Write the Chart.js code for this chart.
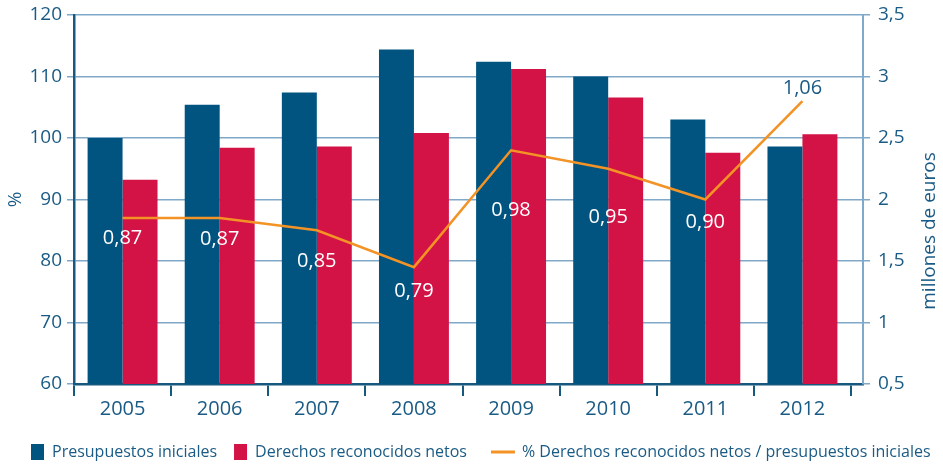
<!DOCTYPE html>
<html>
<head>
<meta charset="utf-8">
<script src="https://cdn.jsdelivr.net/npm/chart.js@4.4.0/dist/chart.umd.min.js"></script>
<style>
  html, body { margin: 0; padding: 0; background: #fff; }
</style>
</head>
<body>
<canvas id="budgetChart" width="943" height="467"></canvas>
<script>
// Datos: presupuestos y derechos en millones de euros, ratio en %
const years = ['2005', '2006', '2007', '2008', '2009', '2010', '2011', '2012'];
const presupuestos = [2.50, 2.77, 2.87, 3.22, 3.12, 3.00, 2.65, 2.43];
const derechos = [2.16, 2.42, 2.43, 2.54, 3.06, 2.83, 2.38, 2.53];
const porcentaje = [87, 87, 85, 79, 98, 95, 90, 106];
const leftTickLabels = ['60', '70', '80', '90', '100', '110', '120'];
const rightTickLabels = ['0,5', '1', '1,5', '2', '2,5', '3', '3,5'];

// vertical shift of each ratio label relative to its point
const labelOffsets = [20, 21, 31, 24, 60, 49, 23, -13];

const BLUE = '#00547f';
const RED = '#d31245';
const ORANGE = '#f39325';
const TEXT = '#1a5b85';
const GRID = '#80a8c8';
const AXIS = '#17587f';
const FONT = '"Open Sans", "DejaVu Sans", sans-serif';

function formatRatio(v) {
    return (v / 100).toFixed(2).replace('.', ',');
}

// fixed axis width, and no extra room for the end labels
function fixWidth(w) {
    return (scale) => {
        scale.width = w;
        scale.paddingTop = 0;
        scale.paddingBottom = 0;
    };
}

// ratio labels drawn under (or above) each point of the line
const ratioLabels = {
    id: 'ratioLabels',
    afterDatasetsDraw(chart) {
        const meta = chart.getDatasetMeta(2);
        const ctx = chart.ctx;
        ctx.save();
        ctx.font = '20px ' + FONT;
        ctx.textAlign = 'center';
        ctx.textBaseline = 'middle';
        meta.data.forEach((pt, i) => {
            ctx.fillStyle = labelOffsets[i] < 0 ? TEXT : '#ffffff';
            ctx.fillText(formatRatio(porcentaje[i]), pt.x, pt.y + labelOffsets[i]);
        });
        ctx.restore();
    }
};

// the category axis stops a little short of the right-hand axis
const shortXAxis = {
    id: 'shortXAxis',
    afterLayout(chart) {
        chart.scales.x._length -= 12;
    }
};

// right axis title and the legend row at the bottom
const extras = {
    id: 'extras',
    afterDraw(chart) {
        const ctx = chart.ctx;
        const y1 = chart.scales.y1;
        ctx.save();
        ctx.fillStyle = TEXT;
        ctx.font = '19px ' + FONT;
        ctx.textAlign = 'center';
        ctx.textBaseline = 'middle';
        ctx.translate(y1.right - 13, 231);
        ctx.rotate(-Math.PI / 2);
        ctx.fillText('millones de euros', 0, 0);
        ctx.restore();

        ctx.save();
        ctx.font = '16px ' + FONT;
        ctx.textBaseline = 'middle';
        ctx.textAlign = 'left';
        const cy = 452;
        let x = 31;
        chart.data.datasets.forEach((ds, i) => {
            if (ds.type === 'line') {
                ctx.strokeStyle = ds.borderColor;
                ctx.lineWidth = 3;
                ctx.beginPath();
                ctx.moveTo(x, cy);
                ctx.lineTo(x + 24, cy);
                ctx.stroke();
                x += 31;
            } else {
                ctx.fillStyle = ds.backgroundColor;
                ctx.fillRect(x, cy - 8, 13, 16);
                x += 21;
            }
            ctx.fillStyle = TEXT;
            ctx.fillText(ds.label, x, cy);
            x += ctx.measureText(ds.label).width + (i === 0 ? 17 : 24);
        });
        ctx.restore();
    }
};

const ctx = document.getElementById('budgetChart').getContext('2d');

new Chart(ctx, {
    data: {
        labels: years,
        datasets: [
            {
                type: 'bar',
                label: 'Presupuestos iniciales',
                data: presupuestos,
                backgroundColor: BLUE,
                yAxisID: 'y1',
                order: 1
            },
            {
                type: 'bar',
                label: 'Derechos reconocidos netos',
                data: derechos,
                backgroundColor: RED,
                yAxisID: 'y1',
                order: 1
            },
            {
                type: 'line',
                label: '% Derechos reconocidos netos / presupuestos iniciales',
                data: porcentaje,
                borderColor: ORANGE,
                backgroundColor: ORANGE,
                borderWidth: 2.5,
                pointRadius: 0,
                tension: 0,
                yAxisID: 'y',
                order: 0
            }
        ]
    },
    options: {
        responsive: false,
        animation: false,
        layout: {
            padding: { top: 15, left: 0, right: 0, bottom: 0 }
        },
        datasets: {
            bar: {
                categoryPercentage: 0.72,
                barPercentage: 1.0
            }
        },
        scales: {
            x: {
                offset: true,
                afterFit: (scale) => { scale.height = 83; },
                grid: {
                    drawOnChartArea: false,
                    drawTicks: true,
                    tickLength: 12,
                    color: AXIS,
                    lineWidth: 2
                },
                border: { color: AXIS, width: 2.5 },
                ticks: {
                    color: TEXT,
                    padding: 1,
                    font: { family: FONT, size: 20 }
                }
            },
            y: {
                position: 'left',
                min: 60,
                max: 120,
                afterFit: fixWidth(74),
                ticks: {
                    stepSize: 10,
                    padding: 5,
                    color: TEXT,
                    font: { family: FONT, size: 19 },
                    callback: (v, i) => leftTickLabels[i]
                },
                grid: {
                    color: GRID,
                    lineWidth: 1.5,
                    tickLength: 7
                },
                border: { color: AXIS, width: 2.5 },
                title: {
                    display: true,
                    text: '%',
                    color: TEXT,
                    font: { family: FONT, size: 19 },
                    padding: { top: 4, bottom: 0 }
                }
            },
            y1: {
                position: 'right',
                min: 0.5,
                max: 3.5,
                afterFit: fixWidth(80),
                ticks: {
                    stepSize: 0.5,
                    padding: 8,
                    color: TEXT,
                    font: { family: FONT, size: 19 },
                    callback: (v, i) => rightTickLabels[i]
                },
                grid: {
                    drawOnChartArea: false,
                    color: GRID,
                    lineWidth: 1.5,
                    tickLength: 7
                },
                border: { color: GRID, width: 2 }
            }
        },
        plugins: {
            legend: { display: false },
            tooltip: { enabled: false }
        }
    },
    plugins: [shortXAxis, ratioLabels, extras]
});
</script>
</body>
</html>
